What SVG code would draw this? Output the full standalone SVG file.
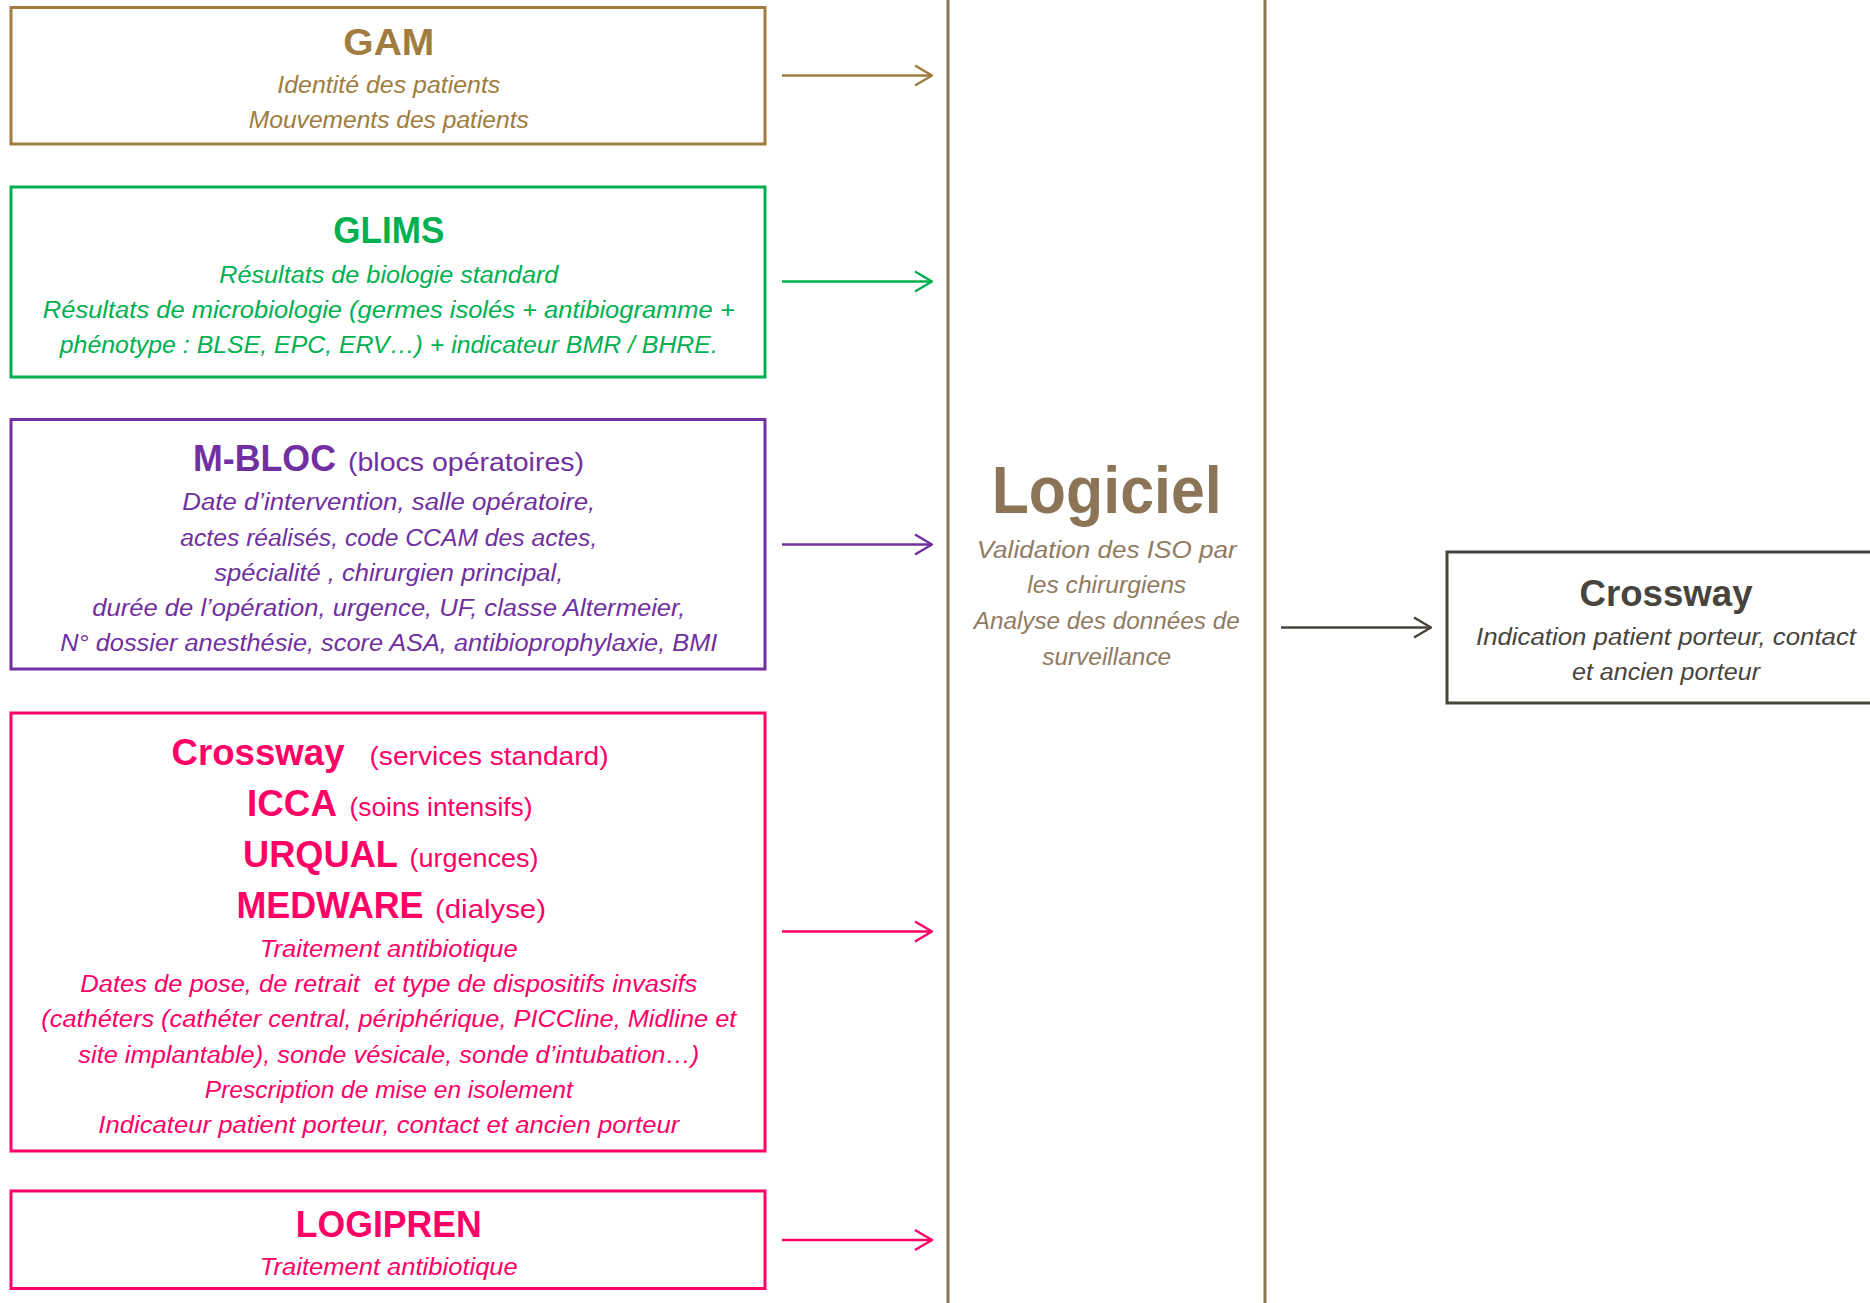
<svg xmlns="http://www.w3.org/2000/svg" width="1870" height="1303" viewBox="0 0 1870 1303">
<style>
  text { font-family: "Liberation Sans", Arial, sans-serif; text-anchor: middle; }
  .t { font-weight: bold; font-size: 36px; }
  .p { font-size: 25px; text-anchor: start; }
  .ts { font-weight: bold; font-size: 36px; text-anchor: start; }
  .i { font-style: italic; font-size: 23px; }
  .box { fill: #ffffff; stroke-width: 3; }
  .gam { fill: #A07C3E; } .gamS { stroke: #A07C3E; }
  .glims { fill: #00B050; } .glimsS { stroke: #00B050; }
  .mbloc { fill: #7030A0; } .mblocS { stroke: #7030A0; }
  .pink { fill: #FF0066; } .pinkS { stroke: #FF0066; }
  .dark { fill: #46443C; } .darkS { stroke: #46443C; }
  .logi { fill: #8C7457; }
  .logiSub { fill: #907B62; }
  .arrow { fill: none; stroke-width: 2.5; }
  .vline { stroke: #8C7457; stroke-width: 3; }
</style>
<defs>
  <marker id="mGam" markerUnits="userSpaceOnUse" viewBox="0 0 20 24" refX="19" refY="12" markerWidth="20" markerHeight="24" orient="auto"><path d="M2,2 L19,12 L2,22" fill="none" stroke="#A07C3E" stroke-width="2.5"/></marker>
  <marker id="mGlims" markerUnits="userSpaceOnUse" viewBox="0 0 20 24" refX="19" refY="12" markerWidth="20" markerHeight="24" orient="auto"><path d="M2,2 L19,12 L2,22" fill="none" stroke="#00B050" stroke-width="2.5"/></marker>
  <marker id="mMbloc" markerUnits="userSpaceOnUse" viewBox="0 0 20 24" refX="19" refY="12" markerWidth="20" markerHeight="24" orient="auto"><path d="M2,2 L19,12 L2,22" fill="none" stroke="#7030A0" stroke-width="2.5"/></marker>
  <marker id="mPink" markerUnits="userSpaceOnUse" viewBox="0 0 20 24" refX="19" refY="12" markerWidth="20" markerHeight="24" orient="auto"><path d="M2,2 L19,12 L2,22" fill="none" stroke="#FF0066" stroke-width="2.5"/></marker>
  <marker id="mDark" markerUnits="userSpaceOnUse" viewBox="0 0 20 24" refX="19" refY="12" markerWidth="20" markerHeight="24" orient="auto"><path d="M2,2 L19,12 L2,22" fill="none" stroke="#46443C" stroke-width="2.5"/></marker>
</defs>
<rect width="1870" height="1303" fill="#ffffff"/>

<g id="logiciel">
  <line class="vline" x1="948" y1="0" x2="948" y2="1303"/>
  <line class="vline" x1="1265" y1="0" x2="1265" y2="1303"/>
  <text class="logi" x="1106.7" y="513" font-weight="bold" font-size="66" textLength="230" lengthAdjust="spacingAndGlyphs">Logiciel</text>
  <text class="i logiSub" x="1106.7" y="557.5" textLength="260" lengthAdjust="spacingAndGlyphs">Validation des ISO par</text>
  <text class="i logiSub" x="1106.7" y="593" textLength="159" lengthAdjust="spacingAndGlyphs">les chirurgiens</text>
  <text class="i logiSub" x="1106.7" y="629" textLength="266" lengthAdjust="spacingAndGlyphs">Analyse des données de</text>
  <text class="i logiSub" x="1106.7" y="665" textLength="129" lengthAdjust="spacingAndGlyphs">surveillance</text>
</g>

<g id="gam">
  <rect class="box gamS" x="11" y="7.5" width="754" height="136.5"/>
  <text class="t gam" x="388.8" y="54.5" textLength="91" lengthAdjust="spacingAndGlyphs">GAM</text>
  <text class="i gam" x="388.8" y="93" textLength="223" lengthAdjust="spacingAndGlyphs">Identité des patients</text>
  <text class="i gam" x="388.8" y="128" textLength="280" lengthAdjust="spacingAndGlyphs">Mouvements des patients</text>
</g>

<g id="glims">
  <rect class="box glimsS" x="11" y="187" width="754" height="190"/>
  <text class="t glims" x="388.8" y="243" textLength="111" lengthAdjust="spacingAndGlyphs">GLIMS</text>
  <text class="i glims" x="388.8" y="283" textLength="339" lengthAdjust="spacingAndGlyphs">Résultats de biologie standard</text>
  <text class="i glims" x="388.8" y="318" textLength="692" lengthAdjust="spacingAndGlyphs">Résultats de microbiologie (germes isolés + antibiogramme +</text>
  <text class="i glims" x="388.8" y="353" textLength="658" lengthAdjust="spacingAndGlyphs">phénotype : BLSE, EPC, ERV…) + indicateur BMR / BHRE.</text>
</g>

<g id="mbloc">
  <rect class="box mblocS" x="11" y="419.5" width="754" height="249.5"/>
  <text class="ts mbloc" x="193" y="470.5" font-size="38" textLength="143" lengthAdjust="spacingAndGlyphs">M-BLOC</text>
  <text class="p mbloc" x="348" y="470.5" textLength="236" lengthAdjust="spacingAndGlyphs">(blocs opératoires)</text>
  <text class="i mbloc" x="388.8" y="510" textLength="413" lengthAdjust="spacingAndGlyphs">Date d’intervention, salle opératoire,</text>
  <text class="i mbloc" x="388.8" y="545.5" textLength="417" lengthAdjust="spacingAndGlyphs">actes réalisés, code CCAM des actes,</text>
  <text class="i mbloc" x="388.8" y="580.5" textLength="349" lengthAdjust="spacingAndGlyphs">spécialité , chirurgien principal,</text>
  <text class="i mbloc" x="388.8" y="615.5" textLength="593" lengthAdjust="spacingAndGlyphs">durée de l’opération, urgence, UF, classe Altermeier,</text>
  <text class="i mbloc" x="388.8" y="650.5" textLength="657" lengthAdjust="spacingAndGlyphs">N° dossier anesthésie, score ASA, antibioprophylaxie, BMI</text>
</g>

<g id="crossway-services">
  <rect class="box pinkS" x="11" y="713" width="754" height="438"/>
  <text class="ts pink" x="171.5" y="764.5" textLength="173" lengthAdjust="spacingAndGlyphs">Crossway</text>
  <text class="p pink" x="369.5" y="764.5" textLength="239" lengthAdjust="spacingAndGlyphs">(services standard)</text>
  <text class="ts pink" x="247" y="815.5" textLength="90" lengthAdjust="spacingAndGlyphs">ICCA</text>
  <text class="p pink" x="349.5" y="815.5" textLength="183" lengthAdjust="spacingAndGlyphs">(soins intensifs)</text>
  <text class="ts pink" x="243" y="866.5" textLength="155" lengthAdjust="spacingAndGlyphs">URQUAL</text>
  <text class="p pink" x="409.5" y="866.5" textLength="129" lengthAdjust="spacingAndGlyphs">(urgences)</text>
  <text class="ts pink" x="236.5" y="917.5" textLength="187" lengthAdjust="spacingAndGlyphs">MEDWARE</text>
  <text class="p pink" x="435" y="917.5" textLength="111" lengthAdjust="spacingAndGlyphs">(dialyse)</text>
  <text class="i pink" x="388.8" y="957" textLength="258" lengthAdjust="spacingAndGlyphs">Traitement antibiotique</text>
  <text class="i pink" x="388.8" y="992" textLength="617" lengthAdjust="spacingAndGlyphs" style="white-space:pre">Dates de pose, de retrait  et type de dispositifs invasifs</text>
  <text class="i pink" x="388.8" y="1027" textLength="695" lengthAdjust="spacingAndGlyphs">(cathéters (cathéter central, périphérique, PICCline, Midline et</text>
  <text class="i pink" x="388.8" y="1063" textLength="621" lengthAdjust="spacingAndGlyphs">site implantable), sonde vésicale, sonde d’intubation…)</text>
  <text class="i pink" x="388.8" y="1097.5" textLength="368" lengthAdjust="spacingAndGlyphs">Prescription de mise en isolement</text>
  <text class="i pink" x="388.8" y="1133" textLength="581" lengthAdjust="spacingAndGlyphs">Indicateur patient porteur, contact et ancien porteur</text>
</g>

<g id="logipren">
  <rect class="box pinkS" x="11" y="1191" width="754" height="97.5"/>
  <text class="t pink" x="388.8" y="1237" textLength="186" lengthAdjust="spacingAndGlyphs">LOGIPREN</text>
  <text class="i pink" x="388.8" y="1275" textLength="258" lengthAdjust="spacingAndGlyphs">Traitement antibiotique</text>
</g>

<g id="crossway-out">
  <rect class="box darkS" x="1447" y="552" width="440" height="151"/>
  <text class="t dark" x="1666" y="605.5" font-size="35" textLength="173" lengthAdjust="spacingAndGlyphs">Crossway</text>
  <text class="i dark" x="1666" y="645" textLength="380" lengthAdjust="spacingAndGlyphs">Indication patient porteur, contact</text>
  <text class="i dark" x="1666" y="680" textLength="188" lengthAdjust="spacingAndGlyphs">et ancien porteur</text>
</g>

<g id="connectors">
  <line class="arrow gamS" x1="782" y1="75.5" x2="932" y2="75.5" marker-end="url(#mGam)"/>
  <line class="arrow glimsS" x1="782" y1="281.5" x2="932" y2="281.5" marker-end="url(#mGlims)"/>
  <line class="arrow mblocS" x1="782" y1="544.5" x2="932" y2="544.5" marker-end="url(#mMbloc)"/>
  <line class="arrow pinkS" x1="782" y1="931.5" x2="932" y2="931.5" marker-end="url(#mPink)"/>
  <line class="arrow pinkS" x1="782" y1="1240" x2="932" y2="1240" marker-end="url(#mPink)"/>
  <line class="arrow darkS" x1="1281" y1="627.5" x2="1431" y2="627.5" marker-end="url(#mDark)"/>
</g>
</svg>
